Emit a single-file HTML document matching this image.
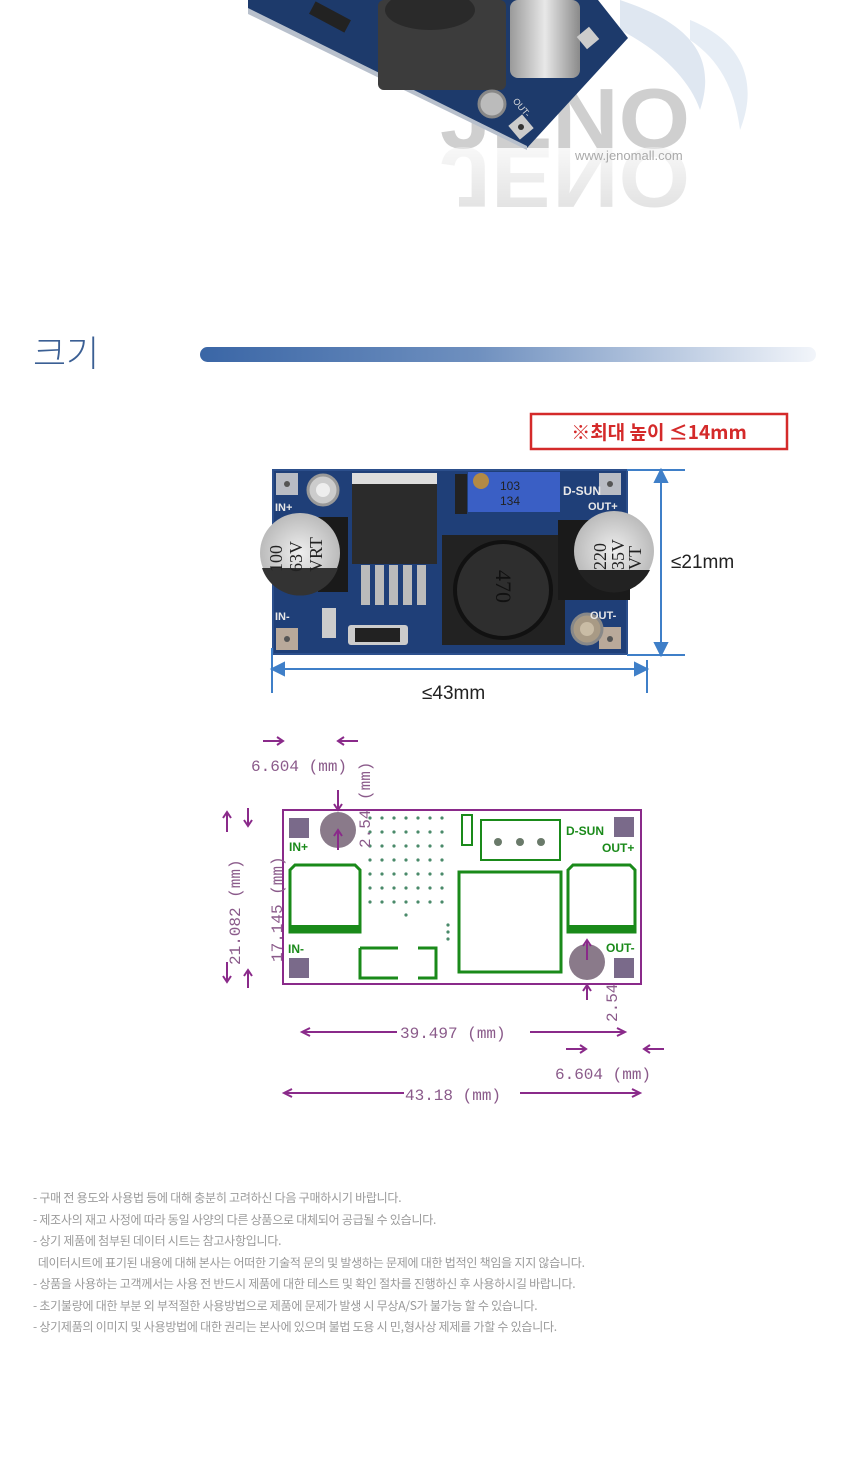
<!DOCTYPE html>
<html><head><meta charset="utf-8">
<style>
html,body{margin:0;padding:0;background:#fff;}
body{width:860px;height:1459px;position:relative;overflow:hidden;font-family:"Liberation Sans","Noto Sans CJK KR",sans-serif;}
svg{position:absolute;left:0;top:0;}
.notes{position:absolute;left:33px;top:1187px;font-size:12px;line-height:21.5px;color:#9a9a9a;font-family:"Noto Sans CJK KR","NanumGothic",sans-serif;letter-spacing:-0.25px;white-space:nowrap;}
</style></head><body>
<svg width="860" height="1459" viewBox="0 0 860 1459" xmlns="http://www.w3.org/2000/svg">
<defs>
<linearGradient id="bar" x1="0" x2="1" y1="0" y2="0">
<stop offset="0" stop-color="#3a66a6"/><stop offset="0.45" stop-color="#6f90bf"/><stop offset="1" stop-color="#f2f5fa"/>
</linearGradient>
<linearGradient id="wm" x1="0" x2="0" y1="0" y2="1">
<stop offset="0" stop-color="#bdbdbd"/><stop offset="1" stop-color="#fff"/>
</linearGradient>
<linearGradient id="cap" x1="0" x2="1"><stop offset="0" stop-color="#9a9a9a"/><stop offset="0.5" stop-color="#e8e8e8"/><stop offset="1" stop-color="#8a8a8a"/></linearGradient>
<radialGradient id="capt"><stop offset="0" stop-color="#eee"/><stop offset="1" stop-color="#bbb"/></radialGradient>
</defs>

<!-- top watermark -->
<path d="M620 0 C680 20 720 50 700 110 C690 80 660 50 620 30Z" fill="#dfe7f1"/>
<path d="M690 20 C740 40 760 80 740 130 C735 90 720 60 690 40Z" fill="#e6edf5"/>
<text x="440" y="148" font-size="85" font-weight="bold" fill="#cfcfcf" font-family="Liberation Sans" textLength="250" lengthAdjust="spacingAndGlyphs">JENO</text>
<g transform="translate(0,296) scale(1,-1)"><text x="440" y="148" font-size="85" font-weight="bold" fill="url(#wm)" opacity="0.5" font-family="Liberation Sans" textLength="250" lengthAdjust="spacingAndGlyphs">JENO</text></g>
<text x="575" y="160" font-size="13" fill="#aaa">www.jenomall.com</text>

<!-- top rotated board -->
<polygon points="248,0 248,12 527,148 628,38 598,0" fill="#1d3a6b"/>
<polygon points="248,8 527,146 527,150 248,14" fill="#b8c0cc"/>
<rect x="378" y="0" width="128" height="90" rx="6" fill="#3c3c3c"/>
<ellipse cx="430" cy="10" rx="45" ry="20" fill="#2a2a2a"/>
<rect x="510" y="0" width="70" height="78" rx="8" fill="url(#cap)"/>
<rect x="310" y="10" width="40" height="14" fill="#222" transform="rotate(28 330 17)"/>
<circle cx="492" cy="104" r="13" fill="#bbb" stroke="#888" stroke-width="3"/>
<rect x="512" y="118" width="18" height="18" fill="#ccc" transform="rotate(-40 521 127)"/>
<circle cx="521" cy="127" r="3" fill="#333"/>
<rect x="580" y="30" width="16" height="16" fill="#ccc" transform="rotate(-40 588 38)"/>
<text x="513" y="108" font-size="9" fill="#ddd" transform="rotate(50 520 104)">OUT-</text>

<!-- header -->
<text x="33" y="366" font-size="36" fill="#3b5f94" font-family="Noto Sans CJK KR,sans-serif" font-weight="300">크기</text>
<rect x="200" y="347" width="616" height="15" rx="7.5" fill="url(#bar)"/>

<!-- red box -->
<rect x="531" y="414" width="256" height="35" fill="#fff" stroke="#d42a2a" stroke-width="2.5"/>
<text x="659" y="439" font-size="19" fill="#d42a2a" text-anchor="middle" font-family="Noto Sans CJK KR,sans-serif" font-weight="bold">※최대 높이 ≤14mm</text>

<!-- photo board -->
<rect x="273" y="470" width="354" height="184" fill="#1f3f78"/>
<rect x="273" y="470" width="354" height="184" fill="none" stroke="#2c4f8c" stroke-width="2"/>
<rect x="276" y="473" width="22" height="22" fill="#b9bcc4"/><circle cx="287" cy="484" r="3" fill="#555"/>
<rect x="276" y="628" width="22" height="22" fill="#b9a99a"/><circle cx="287" cy="639" r="3" fill="#555"/>
<rect x="599" y="473" width="22" height="22" fill="#b9bcc4"/><circle cx="610" cy="484" r="3" fill="#555"/>
<rect x="599" y="627" width="22" height="22" fill="#b9a99a"/><circle cx="610" cy="639" r="3" fill="#555"/>
<circle cx="323" cy="490" r="15" fill="#ccc" stroke="#999" stroke-width="3"/><circle cx="323" cy="490" r="7" fill="#eee"/>
<circle cx="587" cy="629" r="15" fill="#a89a85" stroke="#888" stroke-width="3"/><circle cx="587" cy="629" r="7" fill="#c9bca5"/>
<text x="275" y="511" font-size="11" fill="#e8e8e8" font-weight="bold">IN+</text>
<text x="275" y="620" font-size="11" fill="#e8e8e8" font-weight="bold">IN-</text>
<text x="588" y="510" font-size="11" fill="#e8e8e8" font-weight="bold">OUT+</text>
<text x="590" y="619" font-size="11" fill="#e8e8e8" font-weight="bold">OUT-</text>
<text x="563" y="495" font-size="12" fill="#e8e8e8" font-weight="bold">D-SUN</text>
<!-- regulator -->
<rect x="352" y="473" width="85" height="12" fill="#ddd"/>
<rect x="352" y="484" width="85" height="80" fill="#2b2b2b"/>
<g fill="#bbb"><rect x="361" y="565" width="9" height="40"/><rect x="375" y="565" width="9" height="40"/><rect x="389" y="565" width="9" height="40"/><rect x="403" y="565" width="9" height="40"/><rect x="417" y="565" width="9" height="40"/></g>
<!-- left cap -->
<rect x="318" y="517" width="30" height="75" fill="#1a1a1a"/>
<circle cx="300" cy="553" r="40" fill="url(#capt)"/>
<path d="M262 568 A40 40 0 0 0 338 568 Z" fill="#333"/>
<text x="0" y="0" font-size="18" fill="#222" font-family="Liberation Serif" transform="translate(282,572) rotate(-90)">100</text>
<text x="0" y="0" font-size="18" fill="#222" font-family="Liberation Serif" transform="translate(302,572) rotate(-90)">63V</text>
<text x="0" y="0" font-size="18" fill="#222" font-family="Liberation Serif" transform="translate(322,572) rotate(-90)">VRT</text>
<!-- potentiometer -->
<rect x="468" y="472" width="92" height="40" fill="#3a5fc5"/>
<circle cx="481" cy="481" r="8" fill="#b38a45"/>
<text x="500" y="490" font-size="12" fill="#222">103</text>
<text x="500" y="505" font-size="12" fill="#222">134</text>
<rect x="455" y="474" width="12" height="40" fill="#222"/>
<!-- inductor -->
<rect x="442" y="535" width="123" height="110" fill="#222"/>
<circle cx="503" cy="590" r="48" fill="#2e2e2e" stroke="#111" stroke-width="4"/>
<text x="0" y="0" font-size="22" fill="#111" font-family="Liberation Serif" transform="translate(496,570) rotate(90)">470</text>
<!-- right cap -->
<rect x="558" y="520" width="72" height="80" fill="#1a1a1a"/>
<circle cx="614" cy="551" r="40" fill="url(#capt)"/>
<path d="M578 570 A40 40 0 0 0 650 570 Z" fill="#222"/>
<text x="0" y="0" font-size="18" fill="#222" font-family="Liberation Serif" transform="translate(606,570) rotate(-90)">220</text>
<text x="0" y="0" font-size="18" fill="#222" font-family="Liberation Serif" transform="translate(624,570) rotate(-90)">35V</text>
<text x="0" y="0" font-size="18" fill="#222" font-family="Liberation Serif" transform="translate(641,570) rotate(-90)">VT</text>
<!-- diode -->
<rect x="348" y="625" width="60" height="20" rx="3" fill="#ccc"/><rect x="355" y="628" width="45" height="14" fill="#222"/>
<rect x="322" y="608" width="14" height="30" fill="#ccc"/>
<!-- blue dims -->
<g stroke="#3f7fc8" stroke-width="2" fill="#3f7fc8">
<line x1="627" y1="470" x2="685" y2="470"/><line x1="627" y1="655" x2="685" y2="655"/>
<line x1="661" y1="478" x2="661" y2="647"/>
<polygon points="661,470 655,482 667,482"/><polygon points="661,655 655,643 667,643"/>
<line x1="272" y1="648" x2="272" y2="693"/><line x1="647" y1="660" x2="647" y2="693"/>
<line x1="280" y1="669" x2="639" y2="669"/>
<polygon points="272,669 284,663 284,675"/><polygon points="647,669 635,663 635,675"/>
</g>
<text x="671" y="568" font-size="19" fill="#222">≤21mm</text>
<text x="422" y="699" font-size="19" fill="#222">≤43mm</text>

<!-- technical drawing -->
<g font-family="Liberation Mono" fill="#8a4a8a">
<rect x="283" y="810" width="358" height="174" fill="#fff" stroke="#8a2a8a" stroke-width="2"/>
<g fill="#7a6a8a"><rect x="289" y="818" width="20" height="20"/><rect x="289" y="958" width="20" height="20"/><rect x="614" y="817" width="20" height="20"/><rect x="614" y="958" width="20" height="20"/></g>
<circle cx="338" cy="830" r="18" fill="#8a7a8a"/><circle cx="587" cy="962" r="18" fill="#8a7a8a"/>
<g fill="#1a8a1a" font-family="Liberation Sans" font-weight="bold" font-size="12">
<text x="566" y="835">D-SUN</text><text x="289" y="851">IN+</text><text x="288" y="953">IN-</text><text x="602" y="852">OUT+</text><text x="606" y="952">OUT-</text></g>
<g fill="none" stroke="#1a8a1a" stroke-width="3">
<path d="M290 870 l5 -5 h60 l5 5 v62 h-70z"/><path d="M568 870 l5 -5 h57 l5 5 v62 h-67z"/>
<rect x="459" y="872" width="102" height="100"/><path d="M360 948 h38 M418 948 h18 v30 h-18 M398 978 h-38 v-30"/>
<path d="M481 820 h79 v40 h-79z" stroke-width="2"/><rect x="462" y="815" width="10" height="30" stroke-width="2"/>
</g>
<g fill="#1a8a1a"><rect x="290" y="925" width="70" height="8"/><rect x="568" y="925" width="67" height="8"/></g>
<g fill="#6a7a6a"><circle cx="498" cy="842" r="4"/><circle cx="520" cy="842" r="4"/><circle cx="541" cy="842" r="4"/></g>
<g fill="#4a8a6a">
<circle cx="370" cy="818" r="1.6"/><circle cx="382" cy="818" r="1.6"/><circle cx="394" cy="818" r="1.6"/><circle cx="406" cy="818" r="1.6"/><circle cx="418" cy="818" r="1.6"/><circle cx="430" cy="818" r="1.6"/><circle cx="442" cy="818" r="1.6"/>
<circle cx="370" cy="832" r="1.6"/><circle cx="382" cy="832" r="1.6"/><circle cx="394" cy="832" r="1.6"/><circle cx="406" cy="832" r="1.6"/><circle cx="418" cy="832" r="1.6"/><circle cx="430" cy="832" r="1.6"/><circle cx="442" cy="832" r="1.6"/>
<circle cx="370" cy="846" r="1.6"/><circle cx="382" cy="846" r="1.6"/><circle cx="394" cy="846" r="1.6"/><circle cx="406" cy="846" r="1.6"/><circle cx="418" cy="846" r="1.6"/><circle cx="430" cy="846" r="1.6"/><circle cx="442" cy="846" r="1.6"/>
<circle cx="370" cy="860" r="1.6"/><circle cx="382" cy="860" r="1.6"/><circle cx="394" cy="860" r="1.6"/><circle cx="406" cy="860" r="1.6"/><circle cx="418" cy="860" r="1.6"/><circle cx="430" cy="860" r="1.6"/><circle cx="442" cy="860" r="1.6"/>
<circle cx="370" cy="874" r="1.6"/><circle cx="382" cy="874" r="1.6"/><circle cx="394" cy="874" r="1.6"/><circle cx="406" cy="874" r="1.6"/><circle cx="418" cy="874" r="1.6"/><circle cx="430" cy="874" r="1.6"/><circle cx="442" cy="874" r="1.6"/>
<circle cx="370" cy="888" r="1.6"/><circle cx="382" cy="888" r="1.6"/><circle cx="394" cy="888" r="1.6"/><circle cx="406" cy="888" r="1.6"/><circle cx="418" cy="888" r="1.6"/><circle cx="430" cy="888" r="1.6"/><circle cx="442" cy="888" r="1.6"/>
<circle cx="370" cy="902" r="1.6"/><circle cx="382" cy="902" r="1.6"/><circle cx="394" cy="902" r="1.6"/><circle cx="406" cy="902" r="1.6"/><circle cx="418" cy="902" r="1.6"/><circle cx="430" cy="902" r="1.6"/><circle cx="442" cy="902" r="1.6"/>
<circle cx="406" cy="915" r="1.6"/><circle cx="448" cy="925" r="1.6"/><circle cx="448" cy="932" r="1.6"/><circle cx="448" cy="939" r="1.6"/>
</g>
<!-- dims -->
<g stroke="#8a2a8a" stroke-width="2" fill="none">
<path d="M263 741 h20 M277 737 l6 4 -6 4"/><path d="M358 741 h-20 M344 737 l-6 4 6 4"/>
<path d="M338 790 v20 M334 804 l4 6 4 -6"/><path d="M338 850 v-20 M334 836 l4 -6 4 6"/>
<path d="M227 812 v20 M223 818 l4 -6 4 6 M227 982 v-20 M223 976 l4 6 4 -6"/>
<path d="M248 808 v18 M244 820 l4 6 4 -6 M248 988 v-18 M244 976 l4 -6 4 6"/>
<path d="M587 960 v-20 M583 946 l4 -6 4 6"/><path d="M587 985 v15 M583 991 l4 -6 4 6"/>
<path d="M302 1032 h95 M310 1028 l-8 4 8 4 M530 1032 h95 M617 1028 l8 4 -8 4"/>
<path d="M566 1049 h20 M580 1045 l6 4 -6 4"/><path d="M664 1049 h-20 M650 1045 l-6 4 6 4"/>
<path d="M284 1093 h120 M292 1089 l-8 4 8 4 M520 1093 h120 M632 1089 l8 4 -8 4"/>
</g>
<g font-size="16" fill="#8a5a8a">
<text x="251" y="771">6.604 (mm)</text>
<text x="400" y="1038">39.497 (mm)</text>
<text x="555" y="1079">6.604 (mm)</text>
<text x="405" y="1100">43.18 (mm)</text>
<text transform="translate(240,965) rotate(-90)">21.082 (mm)</text>
<text transform="translate(282,962) rotate(-90)">17.145 (mm)</text>
<text transform="translate(370,848) rotate(-90)">2.54 (mm)</text>
<text transform="translate(617,1022) rotate(-90)">2.54</text>
</g>
</g>
</svg>
<div class="notes">
- 구매 전 용도와 사용법 등에 대해 충분히 고려하신 다음 구매하시기 바랍니다.<br>
- 제조사의 재고 사정에 따라 동일 사양의 다른 상품으로 대체되어 공급될 수 있습니다.<br>
- 상기 제품에 첨부된 데이터 시트는 참고사항입니다.<br>
&nbsp;&nbsp;데이터시트에 표기된 내용에 대해 본사는 어떠한 기술적 문의 및 발생하는 문제에 대한 법적인 책임을 지지 않습니다.<br>
- 상품을 사용하는 고객께서는 사용 전 반드시 제품에 대한 테스트 및 확인 절차를 진행하신 후 사용하시길 바랍니다.<br>
- 초기불량에 대한 부분 외 부적절한 사용방법으로 제품에 문제가 발생 시 무상A/S가 불가능 할 수 있습니다.<br>
- 상기제품의 이미지 및 사용방법에 대한 권리는 본사에 있으며 불법 도용 시 민,형사상 제제를 가할 수 있습니다.
</div>
</body></html>
